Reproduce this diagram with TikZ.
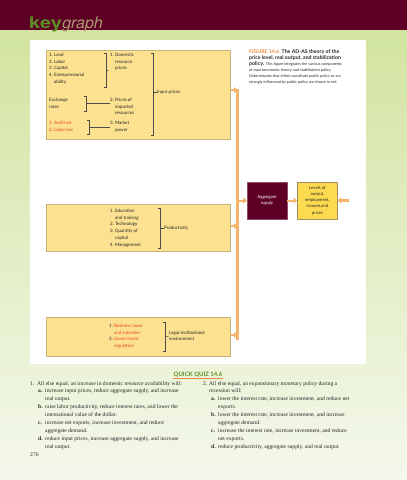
\documentclass[tikz,border=0pt]{standalone}
\usepackage{fontspec}
\setmainfont{Liberation Serif}
\newfontfamily\gill{Lato}
\newfontfamily\heros{TeX Gyre Heros}
\usetikzlibrary{arrows.meta, positioning, calc}
\definecolor{kmaroon}{HTML}{5E0025}
\definecolor{kgreen}{HTML}{5D8E23}
\definecolor{ktopgreen}{HTML}{D2E4A0}
\definecolor{kpale}{HTML}{F4F8EC}
\definecolor{kyellow}{HTML}{FBE190}
\definecolor{kgold}{HTML}{FDDB50}
\definecolor{ktan}{HTML}{C9B27C}
\definecolor{korange}{HTML}{F6B36C}
\definecolor{kred}{HTML}{E8452C}
\definecolor{kcap}{HTML}{F08A3C}
\definecolor{kgraph}{HTML}{B09A72}
\tikzset{
  card/.style={draw=ktan, fill=kyellow, line width=0.5pt, inner sep=0pt, anchor=north west},
  lst/.style={font=\gill\fontsize{4.5}{6.7}\selectfont, align=left, inner sep=0pt,
              anchor=north west, text=black!85},
  brace/.style={draw=black!70, line width=0.45pt},
  feed/.style={-{Triangle[length=3.5pt,width=6pt]}, draw=korange, line width=2pt},
  quiz/.style={font=\fontsize{5.6}{7.9}\selectfont, align=left, inner sep=0pt,
               anchor=north west, text=black!85},
  capt/.style={font=\gill\fontsize{3.8}{5.8}\selectfont, align=left, inner sep=0pt,
               anchor=north west, text=black!85}
}

\begin{document}
\begin{tikzpicture}[x=1pt, y=-1pt]
  \useasboundingbox (0,0) rectangle (407,480);
  % page background
  \fill[top color=ktopgreen, bottom color=kpale] (0,30) rectangle (407,480);
  \fill[kmaroon] (0,0) rectangle (407,30);
  \fill[white] (30,40) rectangle (366,364);
  \node[anchor=base west, inner sep=0pt, font=\heros\bfseries\fontsize{16}{16}\selectfont,
        text=kgreen] (key) at (29,28) {\scalebox{1.25}[1]{key}};
  \node[anchor=base west, inner sep=0pt, font=\heros\itshape\fontsize{16}{16}\selectfont,
        text=kgraph] (graph) at (key.base east) {graph};

  % determinant boxes
  \node[card, minimum width=184pt, minimum height=89pt] (inputs) at (46,50) {};
  \node[card, minimum width=184pt, minimum height=47pt] (prodbox) at (46,204) {};
  \node[card, minimum width=184pt, minimum height=39pt] (legalbox) at (46,317) {};

  % input prices
  \node[lst] (factors) at (49,53) {1.\ Land\\2.\ Labor\\3.\ Capital\\4.\ Entrepreneurial\\\hspace*{5pt}ability};
  \node[lst] (domestic) at (110,53) {1.\ Domestic\\\hspace*{5pt}resource\\\hspace*{5pt}prices};
  \node[lst] (exchange) at (49,98) {Exchange\\rates};
  \node[lst] (imported) at (110,98) {2.\ Prices of\\\hspace*{5pt}imported\\\hspace*{5pt}resources};
  \node[lst, text=kred] (antitrust) at (49,121) {1.\ Antitrust\\2.\ Labor law};
  \node[lst] (market) at (110,121) {3.\ Market\\\hspace*{5pt}power};
  \node[lst, anchor=west] (inprices) at (157,92) {Input prices};
  \draw[brace] (104,53) -- (106,53) -- (106,87) -- (104,87) (106,70) -- (108,70);
  \draw[brace] (151,53) -- (153,53) -- (153,135) -- (151,135);
  \draw[brace] (153,92) -- (inprices.west);
  \coordinate (exbr) at (86,103);
  \draw[brace] (84,96) -- (86,96) -- (86,111) -- (84,111);
  \draw[brace] (exbr) -- (exbr -| imported.west);
  \coordinate (atbr) at (89,127);
  \draw[brace] (87,120) -- (89,120) -- (89,134) -- (87,134);
  \draw[brace] (atbr) -- (atbr -| market.west);

  % productivity
  \node[lst] (prodlist) at (110,209) {1.\ Education\\\hspace*{5pt}and training\\2.\ Technology\\3.\ Quantity of\\\hspace*{5pt}capital\\4.\ Management};
  \node[lst, anchor=west] (prod) at (164,228) {Productivity};
  \draw[brace] (158,208) -- (160,208) -- (160,248) -- (158,248);
  \draw[brace] (160,228) -- (prod.west);

  % legal-institutional
  \node[lst] (policy) at (109,324) {1.\ \textcolor{kred}{Business taxes}\\\hspace*{5pt}\textcolor{kred}{and subsidies}\\2.\ \textcolor{kred}{Government}\\\hspace*{5pt}\textcolor{kred}{regulation}};
  \node[lst, anchor=west] (legal) at (169,336) {Legal-institutional\\environment};
  \draw[brace] (163,322) -- (165,322) -- (165,351) -- (163,351);
  \draw[brace] (165,337) -- (legal.west);

  % supply side
  \coordinate (railtop) at (237.5,89);
  \coordinate (railbot) at (237.5,340);
  \draw[korange, line width=3pt] (railtop) -- (railbot);
  \node[draw=kmaroon!70!white, fill=kmaroon, text=white, minimum width=40pt, minimum height=37pt,
        inner sep=0pt, align=center, font=\gill\fontsize{4.3}{6}\selectfont] (as) at (267,200.5)
        {Aggregate\\supply};
  \node[draw=ktan!80!black, fill=kgold, text=black!85, minimum width=40pt, minimum height=37pt,
        inner sep=0pt, align=center, font=\gill\fontsize{4.3}{6.2}\selectfont, right=10pt of as] (levels)
        {Levels of\\output,\\employment,\\income,and\\prices};
  \coordinate (adin) at (349,200.5);
  \draw[feed] (inputs.east |- 0,90) -- (railtop |- 0,90);
  \draw[feed] (prodbox.east |- 0,226) -- (railtop |- 0,226);
  \draw[feed] (legalbox.east |- 0,335) -- (railtop |- 0,335);
  \draw[feed] (railtop |- as.west) -- (as.west);
  \draw[feed] (as.east) -- (levels.west);
  \draw[feed, line width=2.5pt] (adin) -- (levels.east);

  % caption
  \node[capt] (caption) at (249,49.5) {%
    {\fontsize{5.2}{6}\selectfont\bfseries\textcolor{kcap}{FIGURE 14.6}\ \ The AD-AS theory of the}\\[0.3pt]
    {\fontsize{5.2}{6}\selectfont\bfseries price level, real output, and stabilization}\\[0.3pt]
    {\fontsize{5.2}{6}\selectfont\bfseries policy.}\ \ This figure integrates the various components\\
    of macroeconomic theory and stabilization policy.\\
    Determinants that either constitute public policy or are\\
    strongly influenced by public policy are shown in red.};

  % quick quiz
  \node[anchor=base, inner sep=0pt, font=\gill\bfseries\fontsize{6}{6}\selectfont, text=kgreen]
    (qqtitle) at (198,376) {QUICK QUIZ 14.6};
  \draw[kcap, line width=0.7pt] ([yshift=-2pt]qqtitle.base west) -- ([yshift=-2pt]qqtitle.base east);
  \node[quiz] (q1) at (30,381) {%
    \makebox[7pt][l]{1.}All else equal, an increase in domestic resource availability will:\\
    \hspace*{8pt}\makebox[7pt][l]{\textbf{a.}}increase input prices, reduce aggregate supply, and increase\\
    \hspace*{15pt}real output.\\
    \hspace*{8pt}\makebox[7pt][l]{\textbf{b.}}raise labor productivity, reduce interest rates, and lower the\\
    \hspace*{15pt}international value of the dollar.\\
    \hspace*{8pt}\makebox[7pt][l]{\textbf{c.}}increase net exports, increase investment, and reduce\\
    \hspace*{15pt}aggregate demand.\\
    \hspace*{8pt}\makebox[7pt][l]{\textbf{d.}}reduce input prices, increase aggregate supply, and increase\\
    \hspace*{15pt}real output.};
  \node[quiz] (q2) at (203,381) {%
    \makebox[6pt][l]{2.}All else equal, an expansionary monetary policy during a\\
    \hspace*{6pt}recession will:\\
    \hspace*{8pt}\makebox[7pt][l]{\textbf{a.}}lower the interest rate, increase investment, and reduce net\\
    \hspace*{15pt}exports.\\
    \hspace*{8pt}\makebox[7pt][l]{\textbf{b.}}lower the interest rate, increase investment, and increase\\
    \hspace*{15pt}aggregate demand.\\
    \hspace*{8pt}\makebox[7pt][l]{\textbf{c.}}increase the interest rate, increase investment, and reduce\\
    \hspace*{15pt}net exports.\\
    \hspace*{8pt}\makebox[7pt][l]{\textbf{d.}}reduce productivity, aggregate supply, and real output.};
  \node[quiz, anchor=base west] (folio) at (30,456) {276};
\end{tikzpicture}
\end{document}
